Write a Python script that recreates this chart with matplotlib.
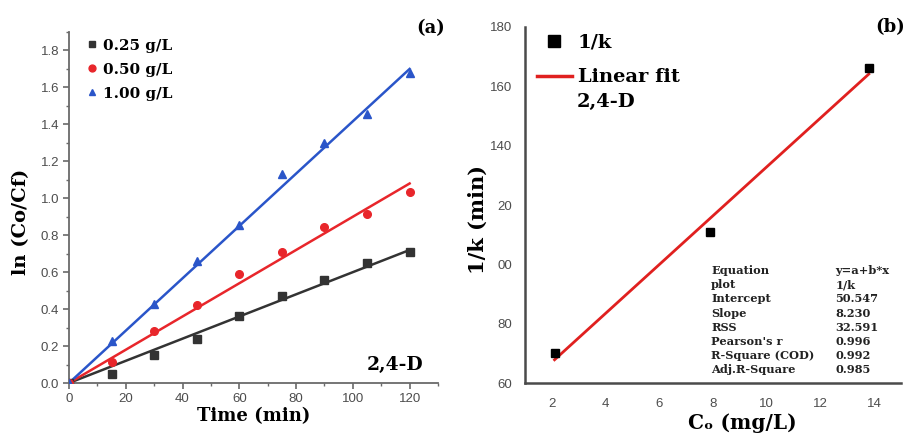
import numpy as np
import matplotlib
matplotlib.use('Agg')
import matplotlib.pyplot as plt
from matplotlib.lines import Line2D

# Panel (a): kinetics at three catalyst doses
time_min = [0, 15, 30, 45, 60, 75, 90, 105, 120]
ln_025 = [0, 0.05, 0.15, 0.24, 0.36, 0.47, 0.56, 0.65, 0.71]
ln_050 = [0, 0.115, 0.28, 0.42, 0.59, 0.71, 0.845, 0.915, 1.035]
ln_100 = [0, 0.23, 0.425, 0.66, 0.855, 1.13, 1.30, 1.455, 1.68]
dose_labels = ['0.25 g/L', '0.50 g/L', '1.00 g/L']
fit_t = [0, 120]
fit_end = [0.72, 1.08, 1.70]   # value of each linear fit at t = 120

# Panel (b): 1/k vs initial concentration
co = [2.1, 7.9, 13.8]
inv_k = [70.2, 110.9, 166.3]
intercept = 50.547
slope = 8.230
stat_names = ['Equation', 'plot', 'Intercept', 'Slope', 'RSS',
              "Pearson's r", 'R-Square (COD)', 'Adj.R-Square']
stat_values = ['y=a+b*x', '1/k', '50.547', '8.230', '32.591',
               '0.996', '0.992', '0.985']
yticks_b = [60, 80, 100, 120, 140, 160, 180]
yticklabels_b = ['60', '80', '00', '20', '140', '160', '180']

serif = 'DejaVu Serif'
tick_font = 'Liberation Sans'
spine_a = '#6a6a6a'
spine_b = '#4a4a4a'
tick_col = '#4d4d4d'

colors = ['#333333', '#e8262b', '#2a55c9']
markers = ['s', 'o', '^']

fig = plt.figure(figsize=(9.12, 4.36), dpi=100)
ax1 = fig.add_axes([69/912, 53/436, 369/912, 351/436])
ax2 = fig.add_axes([525/912, 53/436, 376/912, 356/436])

# ---- panel (a)
handles = []
for vals, end, c, m, lab in zip([ln_025, ln_050, ln_100], fit_end, colors, markers, dose_labels):
    ax1.plot(fit_t, [0, end], color=c, lw=1.8, zorder=2)
    h, = ax1.plot(time_min, vals, ls='none', marker=m, color=c, ms=5.5, zorder=3, label=lab)
    handles.append(h)

ax1.set_xlim(0, 130)
ax1.set_ylim(0, 1.9)
ax1.set_xticks(range(0, 121, 20))
ax1.set_xticks(range(10, 131, 20), minor=True)
ax1.set_yticks(np.arange(0, 1.81, 0.2))
ax1.set_yticks(np.arange(0.1, 1.91, 0.2), minor=True)
ax1.yaxis.set_major_formatter(matplotlib.ticker.FormatStrFormatter('%.1f'))
for s in ['top', 'right']:
    ax1.spines[s].set_visible(False)
for s in ['left', 'bottom']:
    ax1.spines[s].set_color(spine_a)
    ax1.spines[s].set_linewidth(1.3)
ax1.tick_params(which='major', direction='out', length=4, width=1.2, color=spine_a,
                labelsize=9.5, labelcolor=tick_col, pad=3)
ax1.tick_params(which='minor', direction='out', length=2.5, width=1.0, color=spine_a)
for lbl in ax1.get_xticklabels() + ax1.get_yticklabels():
    lbl.set_fontfamily(tick_font)

ax1.set_xlabel('Time (min)', fontfamily=serif, fontweight='bold', fontsize=13, labelpad=2)
ax1.set_ylabel('ln (Co/Cf)', fontfamily=serif, fontweight='bold', fontsize=14)
ax1.yaxis.set_label_coords(-0.105, 0.46)

leg = ax1.legend(handles=handles, loc='upper left', bbox_to_anchor=(0.012, 1.02),
                 frameon=False, handlelength=0.6, handletextpad=0.45, labelspacing=0.65,
                 markerscale=0.9, prop={'family': serif, 'weight': 'bold', 'size': 11})
ax1.text(1.02, 1.01, '(a)', transform=ax1.transAxes, ha='right', va='center',
         fontfamily=serif, fontweight='bold', fontsize=13)
ax1.text(0.96, 0.025, '2,4-D', transform=ax1.transAxes, ha='right', va='bottom',
         fontfamily=serif, fontweight='bold', fontsize=13.5)

# ---- panel (b)
xfit = np.array([co[0], co[-1]])
ax2.plot(xfit, intercept + slope * xfit, color='#e0201f', lw=2.0, zorder=2)
ax2.plot(co, inv_k, ls='none', marker='s', color='black', ms=6, zorder=3)

ax2.set_xlim(1, 15)
ax2.set_ylim(60, 180)
ax2.set_xticks(range(2, 15, 2))
ax2.set_yticks(yticks_b)
ax2.set_yticklabels(yticklabels_b)
for s in ['top', 'right']:
    ax2.spines[s].set_visible(False)
for s in ['left', 'bottom']:
    ax2.spines[s].set_color(spine_b)
    ax2.spines[s].set_linewidth(1.8)
ax2.tick_params(length=0, labelsize=9.5, labelcolor=tick_col)
ax2.tick_params(axis='y', pad=9)
ax2.tick_params(axis='x', pad=11)
for lbl in ax2.get_xticklabels() + ax2.get_yticklabels():
    lbl.set_fontfamily(tick_font)

ax2.set_xlabel('C\u2092 (mg/L)', fontfamily=serif, fontweight='bold', fontsize=14.5)
ax2.xaxis.set_label_coords(0.577, -0.085)
ax2.set_ylabel('1/k (min)', fontfamily=serif, fontweight='bold', fontsize=15)
ax2.yaxis.set_label_coords(-0.098, 0.458)

leg_handles = [Line2D([], [], ls='none', marker='s', color='black', ms=8),
               Line2D([], [], color='#e0201f', lw=2.5)]
ax2.legend(leg_handles, ['1/k', 'Linear fit'], loc='upper left', bbox_to_anchor=(-0.015, 1.03),
           frameon=False, handlelength=1.8, handletextpad=0.3, labelspacing=0.85,
           prop={'family': serif, 'weight': 'bold', 'size': 14})
ax2.text(0.138, 0.79, '2,4-D', transform=ax2.transAxes, ha='left', va='center',
         fontfamily=serif, fontweight='bold', fontsize=14)
ax2.text(1.01, 1.0, '(b)', transform=ax2.transAxes, ha='right', va='center',
         fontfamily=serif, fontweight='bold', fontsize=13)

for i, (n, v) in enumerate(zip(stat_names, stat_values)):
    yy = 0.315 - i * 0.0395
    ax2.text(0.495, yy, n, transform=ax2.transAxes, ha='left', va='center',
             fontfamily=serif, fontweight='bold', fontsize=8.2, color='#222222')
    ax2.text(0.825, yy, v, transform=ax2.transAxes, ha='left', va='center',
             fontfamily=serif, fontweight='bold', fontsize=8.2, color='#222222')

fig.savefig('out.png', dpi=100)
